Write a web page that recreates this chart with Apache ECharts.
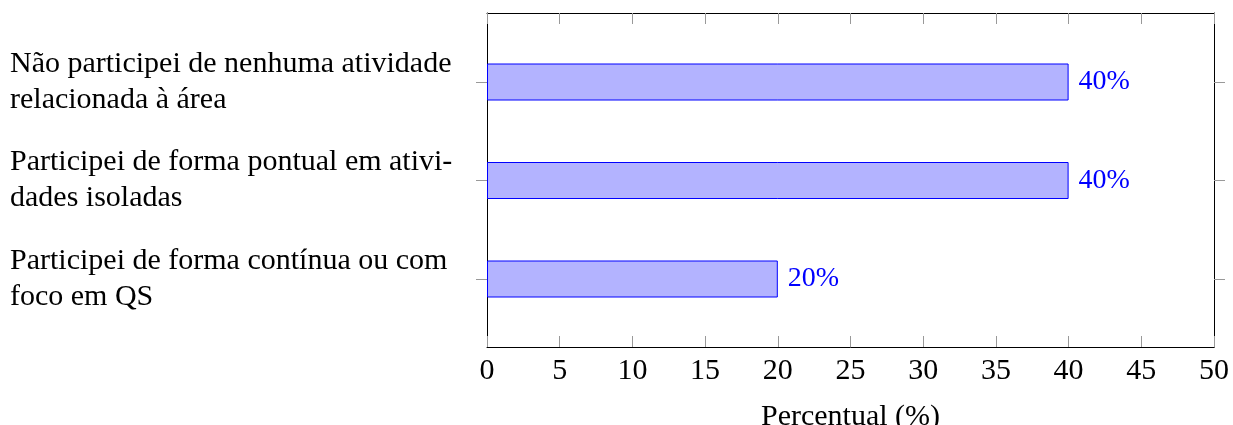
<!DOCTYPE html>
<html>
<head>
<meta charset="utf-8">
<script src="https://cdn.jsdelivr.net/npm/echarts@6/dist/echarts.min.js"></script>
<style>
  html, body { margin: 0; padding: 0; background: #fff; }
  #chart { width: 1233px; height: 425px; }
</style>
</head>
<body>
<div id="chart"></div>
<script>
// Answer options (top to bottom) and the share of respondents for each
const categories = [
  'Não participei de nenhuma atividade\nrelacionada à área',
  'Participei de forma pontual em ativi-\ndades isoladas',
  'Participei de forma contínua ou com\nfoco em QS'
];
const percentValues = [40, 40, 20];

// Percent axis range and step
const xMin = 0;
const xMax = 50;
const xStep = 5;
const xTitle = 'Percentual (%)';

const FONT = '"Liberation Serif", "DejaVu Serif", serif';
const TICK = '#999999';
const FRAME = { show: true, onZero: false, lineStyle: { color: '#000', width: 1 } };
const PLOT_LEFT = 487;
const PLOT_WIDTH = 727;

const chart = echarts.init(document.getElementById('chart'), null, { renderer: 'canvas' });

chart.setOption({
  animation: false,
  backgroundColor: '#ffffff',
  grid: [
    // framed plot area carrying the percent scale
    { left: PLOT_LEFT, top: 13, width: PLOT_WIDTH, height: 334, outerBoundsMode: 'none', containLabel: false },
    // band area for the bars
    { left: PLOT_LEFT, top: 32.75, width: PLOT_WIDTH, height: 295.5, outerBoundsMode: 'none', containLabel: false }
  ],
  xAxis: [
    {
      gridIndex: 0, type: 'value', position: 'bottom',
      min: xMin, max: xMax, interval: xStep,
      axisLine: FRAME,
      axisTick: { show: true, inside: true, length: 11, lineStyle: { color: TICK, width: 1 } },
      splitLine: { show: false },
      axisLabel: { margin: 9, color: '#000', fontFamily: FONT, fontSize: 30 },
      name: xTitle, nameLocation: 'middle', nameGap: 55,
      nameTextStyle: { color: '#000', fontFamily: FONT, fontSize: 30 }
    },
    {
      gridIndex: 0, type: 'value', position: 'top',
      min: xMin, max: xMax, interval: xStep,
      axisLine: FRAME,
      axisTick: { show: true, inside: true, length: 11, lineStyle: { color: TICK, width: 1 } },
      splitLine: { show: false },
      axisLabel: { show: false }
    },
    {
      gridIndex: 1, type: 'value', min: xMin, max: xMax, show: false
    }
  ],
  yAxis: [
    {
      gridIndex: 0, type: 'value', position: 'left', min: 0, max: 1,
      axisLine: FRAME, axisTick: { show: false }, axisLabel: { show: false }, splitLine: { show: false }
    },
    {
      gridIndex: 0, type: 'value', position: 'right', min: 0, max: 1,
      axisLine: FRAME, axisTick: { show: false }, axisLabel: { show: false }, splitLine: { show: false }
    },
    {
      gridIndex: 1, type: 'category', data: categories, inverse: true, position: 'left',
      axisLine: { show: false, onZero: false },
      axisTick: { show: true, alignWithLabel: true, length: 11, lineStyle: { color: TICK, width: 1 } },
      axisLabel: {
        margin: PLOT_LEFT - 10, align: 'left', color: '#000',
        fontFamily: FONT, fontSize: 30, lineHeight: 36
      }
    },
    {
      gridIndex: 1, type: 'category', data: categories, inverse: true, position: 'right',
      axisLine: { show: false, onZero: false },
      axisTick: { show: true, alignWithLabel: true, length: 11, lineStyle: { color: TICK, width: 1 } },
      axisLabel: { show: false }
    }
  ],
  series: [
    {
      type: 'bar',
      xAxisIndex: 2, yAxisIndex: 2,
      data: percentValues,
      barWidth: 37,
      itemStyle: { color: '#b3b3ff', borderColor: '#0000ff', borderWidth: 1 },
      label: {
        show: true, position: 'right', distance: 10,
        formatter: p => p.value + '%',
        color: '#0000ff', fontFamily: FONT, fontSize: 28
      }
    }
  ]
});
</script>
</body>
</html>
